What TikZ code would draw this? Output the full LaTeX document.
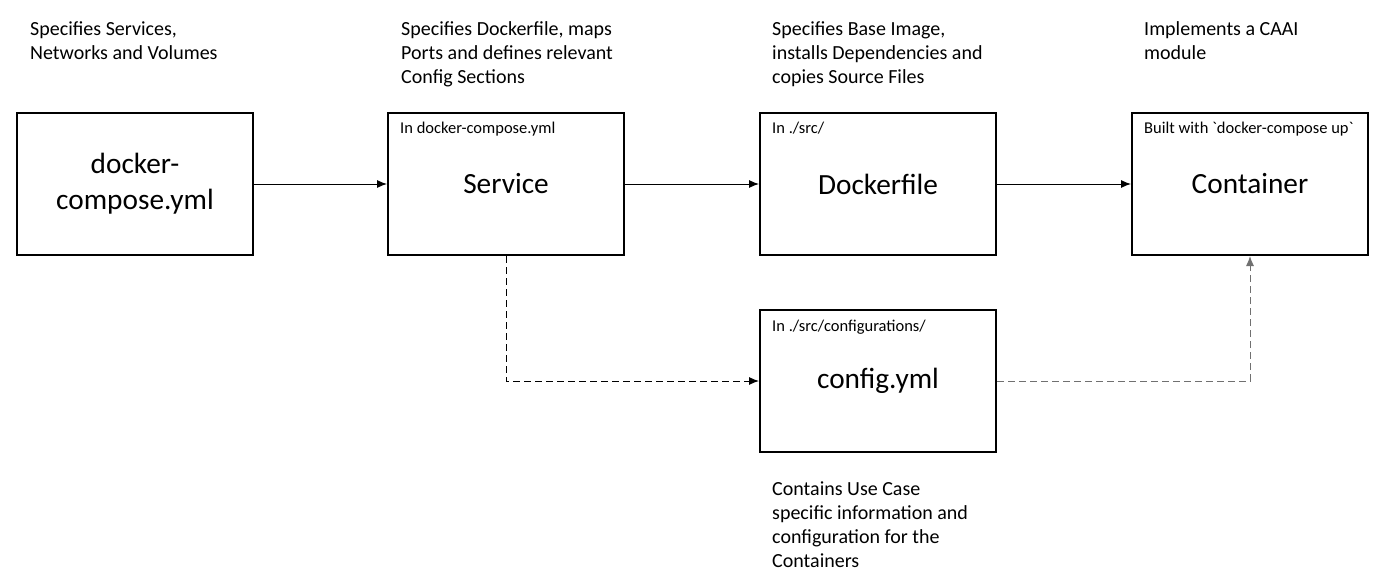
\documentclass[tikz,border=0pt]{standalone}
\usepackage{fontspec}
\setmainfont{Carlito}
\newfontfamily\plaincarlito{Carlito}
\usepackage{tikz}
\usetikzlibrary{positioning,arrows.meta}
\definecolor{dashgray}{RGB}{112,112,112}

\tikzset{
  box/.style={draw,line width=2pt,minimum width=236pt,minimum height=142pt,
    align=center,font=\fontsize{29.3}{36}\selectfont},
  where/.style={anchor=base west,inner sep=0pt,font=\plaincarlito\fontsize{16.5}{20}\selectfont},
  note/.style={anchor=base west,inner sep=0pt,align=left,font=\fontsize{20}{24}\selectfont},
  flow/.style={->,line width=1pt},
  dashflow/.style={->,line width=1pt,dash pattern=on 7pt off 4pt}
}

\begin{document}
\begin{tikzpicture}[x=1pt,y=-1pt,>={Latex[length=10pt,width=8pt]}]
  \useasboundingbox (0,0) rectangle (1389,583);
  \node[box] (compose)    at (135,184) {docker-\\compose.yml};
  \node[box] (service)    at (506,184) {Service};
  \node[box] (dockerfile) at (878,184) {Dockerfile};
  \node[box] (container)  at (1250,184) {Container};
  \node[box] (config)     at (878,381) {config.yml};
  % where each one lives
  \node[where] (servicein)   at ([shift={(13,22)}]service.north west) {In docker-compose.yml};
  \node[where] (dockerin)    at ([shift={(13,22)}]dockerfile.north west) {In ./src/};
  \node[where] (containerin) at ([shift={(13,22)}]container.north west) {Built with `docker-compose up`};
  \node[where] (configin)    at ([shift={(13,22)}]config.north west) {In ./src/configurations/};
  % notes (placed at the baseline of their last line)
  \node[note] (composenote)   at (30,60)   {Specifies Services,\\Networks and Volumes};
  \node[note] (servicenote)   at (401,84)  {Specifies Dockerfile, maps\\Ports and defines relevant\\Config Sections};
  \node[note] (dockernote)    at (772,84)  {Specifies Base Image,\\installs Dependencies and\\copies Source Files};
  \node[note] (containernote) at (1144,60) {Implements a CAAI\\module};
  \node[note] (confignote)    at (772,567) {Contains Use Case\\specific information and\\configuration for the\\Containers};
  % connectors
  \draw[flow] (compose) -- (service);
  \draw[flow] (service) -- (dockerfile);
  \draw[flow] (dockerfile) -- (container);
  \draw[dashflow] (service.south) |- (config.west);
  \draw[dashflow,dashgray] (config.east) -| (container.south);
\end{tikzpicture}
\end{document}
